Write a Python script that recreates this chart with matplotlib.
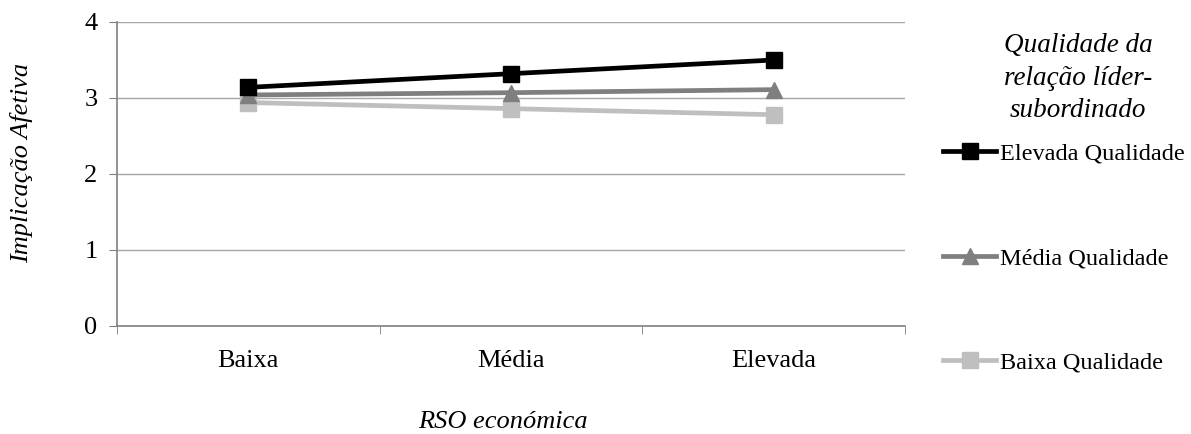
import numpy as np
import matplotlib.pyplot as plt
import matplotlib as mpl

mpl.rcParams['font.family'] = ['Liberation Serif', 'DejaVu Serif']

# categorias e valores
categorias = ['Baixa', 'Média', 'Elevada']
elevada_q = [3.14, 3.32, 3.50]
media_q = [3.04, 3.07, 3.11]
baixa_q = [2.94, 2.86, 2.78]
y_ticks = [0, 1, 2, 3, 4]

W, H = 1191, 434
fig = plt.figure(figsize=(W/100, H/100), dpi=100)
ax = fig.add_axes([117/W, 1-326/H, (905-117)/W, (326-22)/H])

x = np.arange(len(categorias))
ax.plot(x, elevada_q, c='black', lw=3.4, marker='s', ms=11, label='Elevada Qualidade', zorder=5)
ax.plot(x, media_q, c='#7f7f7f', lw=3.4, marker='^', ms=11, label='Média Qualidade', zorder=4)
ax.plot(x, baixa_q, c='#bfbfbf', lw=3.4, marker='s', ms=11, label='Baixa Qualidade', zorder=3)

ax.set_xlim(-0.5, 2.5)
ax.set_ylim(0, 4)
ax.set_yticks(y_ticks)
ax.set_xticks(x)
ax.set_xticklabels(categorias, fontsize=19)
ax.set_xticks([-0.5, 0.5, 1.5, 2.5], minor=True)
ax.tick_params(axis='x', which='major', length=0, pad=17)
ax.tick_params(axis='x', which='minor', length=5.5, color='#808080', direction='out')
ax.tick_params(axis='y', length=6, color='#808080', labelsize=19, pad=8)
ax.grid(axis='y', color='#a6a6a6', lw=1)
ax.set_axisbelow(True)
for s in ['top', 'right']:
    ax.spines[s].set_visible(False)
for s in ['left', 'bottom']:
    ax.spines[s].set_color('#808080')
    ax.spines[s].set_linewidth(1.2)

# titulos dos eixos
fig.text(22/W, 1-163/H, 'Implicação Afetiva', fontsize=19, style='italic',
         rotation=90, ha='center', va='center')
fig.text(503/W, 1-428/H, 'RSO económica', fontsize=19, style='italic',
         ha='center', va='baseline')

# titulo da legenda
fig.text(1078/W, 1-33/H, 'Qualidade da\nrelação líder-\nsubordinado', fontsize=19.5,
         style='italic', ha='center', va='top', multialignment='center',
         linespacing=1.4)

leg = ax.legend(loc='center left', bbox_to_anchor=(943/W, 1-258/H),
                bbox_transform=fig.transFigure, frameon=False, fontsize=17.5,
                labelspacing=3.4, handlelength=2.2, handletextpad=0.15,
                borderpad=0, borderaxespad=0)

fig.savefig('out.png', dpi=100)
